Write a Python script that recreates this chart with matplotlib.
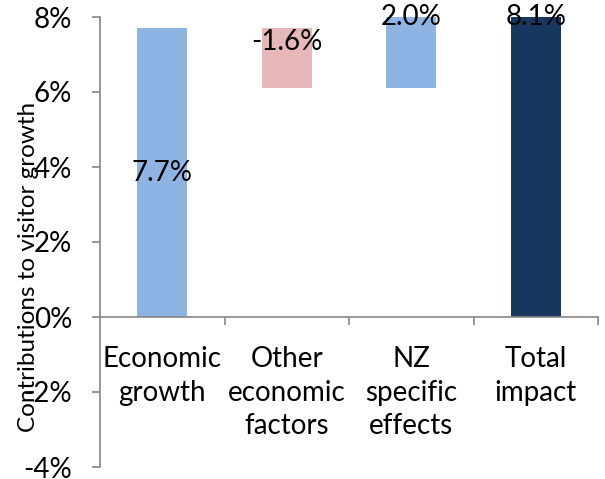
import matplotlib.pyplot as plt
from matplotlib.ticker import FixedLocator, NullFormatter

plt.rcParams['font.family'] = ['Lato', 'DejaVu Sans']

categories = ['Economic\ngrowth', 'Other\neconomic\nfactors', 'NZ\nspecific\neffects', 'Total\nimpact']
changes = [7.7, -1.6, 2.0]
total = 8.1
colors = ['#8DB4E2', '#E6B9B8', '#8DB4E2', '#17375E']
y_ticks = [-4, -2, 0, 2, 4, 6, 8]

# waterfall: each step starts where the previous one ended, the total starts at zero
bottoms = []
level = 0.0
for c in changes:
    bottoms.append(level)
    level += c
bottoms.append(0.0)
heights = changes + [total]

fig = plt.figure(figsize=(6.05, 4.79), dpi=100)
ax = fig.add_axes([100 / 605, 12 / 479, 498 / 605, 450 / 479])

x = list(range(len(categories)))
ax.bar(x, heights, bottom=bottoms, width=0.4, color=colors, zorder=2)

ax.set_xlim(-0.5, len(categories) - 0.5)
ax.set_ylim(-4, 8)

# value labels
fs = 20
ax.text(0, bottoms[0] + heights[0] / 2, f'{heights[0]:.1f}%', ha='center', va='center', fontsize=fs)
ax.annotate(f'{heights[1]:.1f}%', (1, bottoms[1]), xytext=(0, -10), textcoords='offset points',
            ha='center', va='center', fontsize=fs)
for i in (2, 3):
    top = min(bottoms[i] + heights[i], 8)
    ax.text(i, top, f'{heights[i]:.1f}%', ha='center', va='center', fontsize=fs, zorder=3)

grey = '#868686'
for s in ('top', 'right'):
    ax.spines[s].set_visible(False)
ax.spines['bottom'].set_position(('data', 0))
ax.spines['bottom'].set_color(grey)
ax.spines['left'].set_color(grey)
ax.spines['bottom'].set_linewidth(1.2)
ax.spines['left'].set_linewidth(1.2)

ax.set_yticks(y_ticks)
ax.set_yticklabels([f'{v}%' for v in y_ticks])
ax.tick_params(axis='y', length=6, width=1.2, color=grey, labelsize=fs, pad=14)

# category boundaries as ticks, names centred between them
ax.xaxis.set_major_locator(FixedLocator([i + 0.5 for i in x]))
ax.xaxis.set_major_formatter(NullFormatter())
ax.xaxis.set_minor_locator(FixedLocator(x))
ax.set_xticks(x, categories, minor=True)
ax.tick_params(axis='x', which='major', length=6, width=1.2, color=grey, direction='out')
ax.tick_params(axis='x', which='minor', length=0, labelsize=fs, pad=21)
for lbl in ax.get_xticklabels(minor=True):
    lbl.set_linespacing(1.35)

ax.set_ylabel('Contributions to visitor growth', fontsize=17.5, va='center')
ax.yaxis.set_label_coords(-0.143, 0.445)

fig.savefig('out.png', dpi=100)
